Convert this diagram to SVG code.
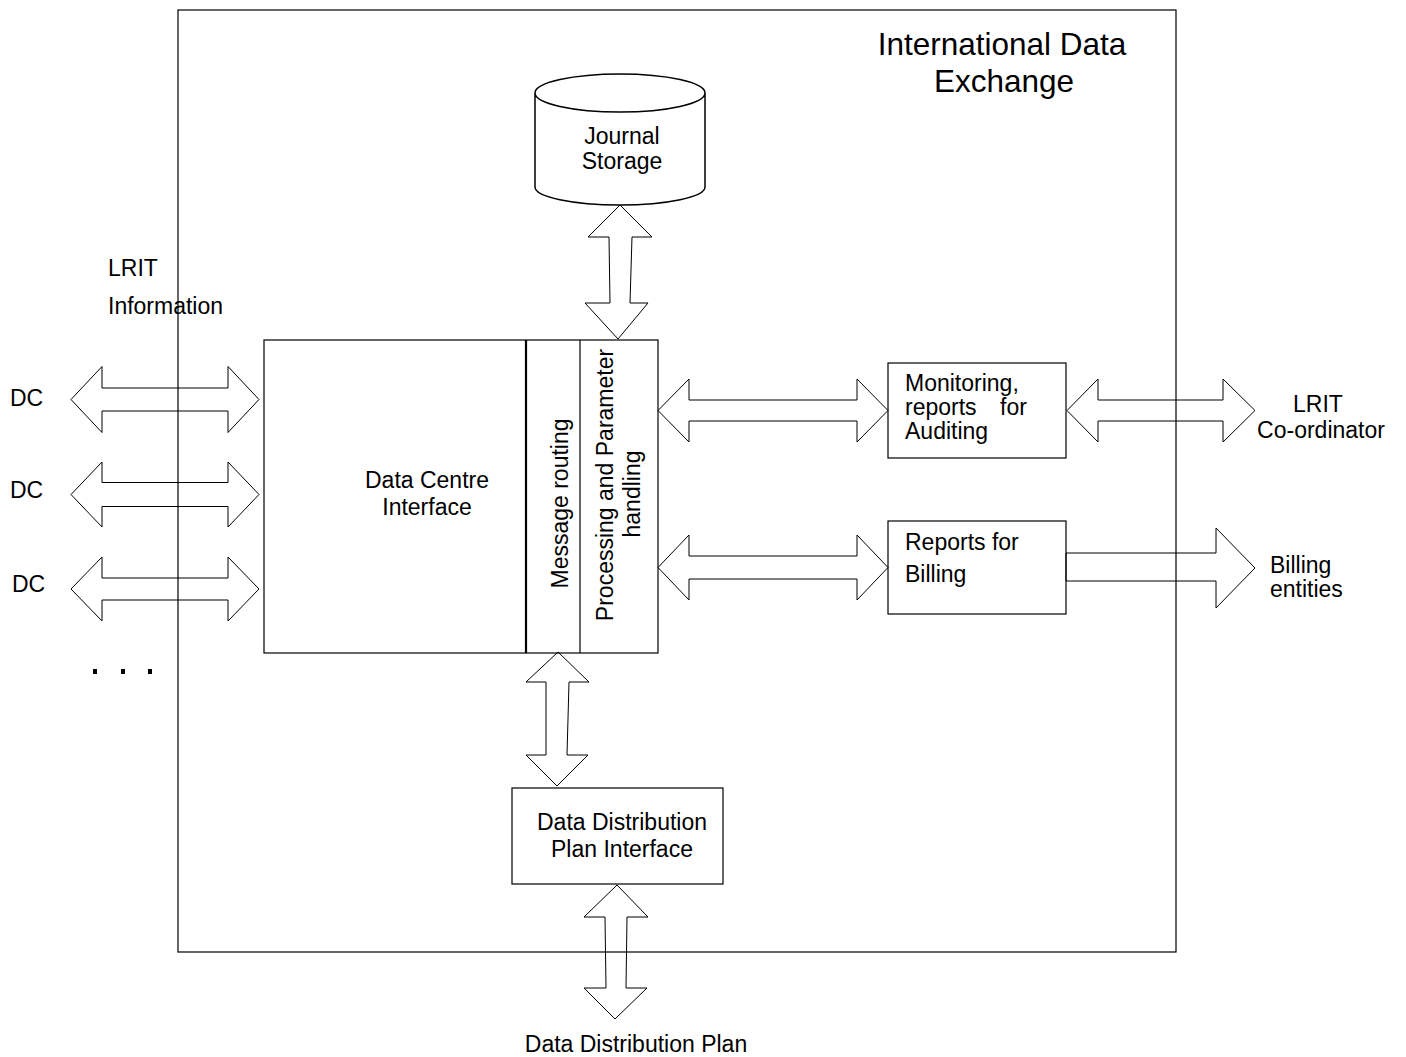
<svg xmlns="http://www.w3.org/2000/svg" width="1406" height="1057" viewBox="0 0 1406 1057">
<style>
text{font-family:"Liberation Sans",Arial,sans-serif;font-size:23px;fill:#000}
.m{text-anchor:middle}
.title{font-size:31.5px}
.box{fill:#fff;stroke:#000;stroke-width:1.2}
.arr{fill:none;stroke:#000;stroke-width:1}
.ln{stroke:#000;stroke-width:1.2;fill:none}
</style>
<rect width="1406" height="1057" fill="#fff"/>
<g id="ide">
<rect x="178" y="10" width="998" height="942" class="ln"/>
<text class="m title" x="1002" y="55">International Data</text>
<text class="m title" x="1004" y="92">Exchange</text>
</g>
<g id="journal">
<path d="M535,93 A85,19 0 0,1 705,93 A85,19 0 0,1 535,93 Z M535,93 L535,187 A85,18 0 0,0 705,187 L705,93" fill="#fff" stroke="#000" stroke-width="1.5"/>
<text class="m" x="622" y="144">Journal</text>
<text class="m" x="622" y="169">Storage</text>
</g>
<g id="dci">
<rect x="264" y="340" width="394" height="313" class="box"/>
<line x1="526" y1="340" x2="526" y2="653" stroke="#000" stroke-width="2.2"/>
<line x1="580" y1="340" x2="580" y2="653" stroke="#000" stroke-width="1.2"/>
<text class="m" x="427" y="488">Data Centre</text>
<text class="m" x="427" y="515">Interface</text>
<text class="m" transform="translate(568,503.5) rotate(-90)">Message routing</text>
<text class="m" transform="translate(613,485) rotate(-90)">Processing and Parameter</text>
<text class="m" transform="translate(640,494) rotate(-90)">handling</text>
</g>
<g id="monitoring">
<rect x="888" y="363" width="178" height="95" class="box"/>
<text x="905" y="391">Monitoring,</text>
<text x="905" y="415">reports<tspan x="1000">for</tspan></text>
<text x="905" y="439">Auditing</text>
</g>
<g id="billing">
<rect x="888" y="521" width="178" height="93" class="box"/>
<text x="905" y="550">Reports for</text>
<text x="905" y="582">Billing</text>
</g>
<g id="ddpi">
<rect x="512" y="788" width="211" height="96" class="box"/>
<text class="m" x="622" y="830">Data Distribution</text>
<text class="m" x="622" y="857">Plan Interface</text>
</g>
<g id="labels">
<text x="108" y="276">LRIT</text>
<text x="108" y="314">Information</text>
<text x="10" y="406">DC</text>
<text x="10" y="498">DC</text>
<text x="12" y="592">DC</text>
<rect x="93" y="669" width="4" height="5"/>
<rect x="121" y="669" width="4" height="5"/>
<rect x="148" y="669" width="4" height="5"/>
<text class="m" x="1318" y="412">LRIT</text>
<text class="m" x="1321" y="438">Co-ordinator</text>
<text x="1270" y="573">Billing</text>
<text x="1270" y="597">entities</text>
<text class="m" x="636" y="1052">Data Distribution Plan</text>
</g>
<g id="connectors">
<polygon class="arr" points="620,205 652,237 632,237 630,303 648,303 618,339 585,303 610,303 609,237 588,237"/>
<polygon class="arr" points="71,399.5 102,366.5 102,388 228,388 228,366.5 259,399.5 228,432.5 228,411 102,411 102,432.5"/>
<polygon class="arr" points="71,494.5 102,462 102,482.5 228,482.5 228,462 259,494.5 228,527 228,506.5 102,506.5 102,527"/>
<polygon class="arr" points="71,589 102,557 102,578 228,578 228,557 259,589 228,621 228,600 102,600 102,621"/>
<polygon class="arr" points="658,410.5 689,379 689,400 857,400 857,379 888,410.5 857,442 857,421 689,421 689,442"/>
<polygon class="arr" points="658,567.5 689,535 689,556 857,556 857,535 888,567.5 857,600 857,579 689,579 689,600"/>
<polygon class="arr" points="1067,410.5 1098,379 1098,400 1223,400 1223,379 1255,410.5 1223,442 1223,421 1098,421 1098,442"/>
<polygon class="arr" points="1066,553 1216,553 1216,528 1255,568 1216,608 1216,581 1066,581"/>
<polygon class="arr" points="558,652 589,682 569,682 567,755 588,755 557,786 526,755 546,755 546,682 526,682"/>
<polygon class="arr" points="617,885 648,917 627,917 626,988 647,988 615,1019 584,988 606,988 605,917 584,917"/>
</g>
</svg>
